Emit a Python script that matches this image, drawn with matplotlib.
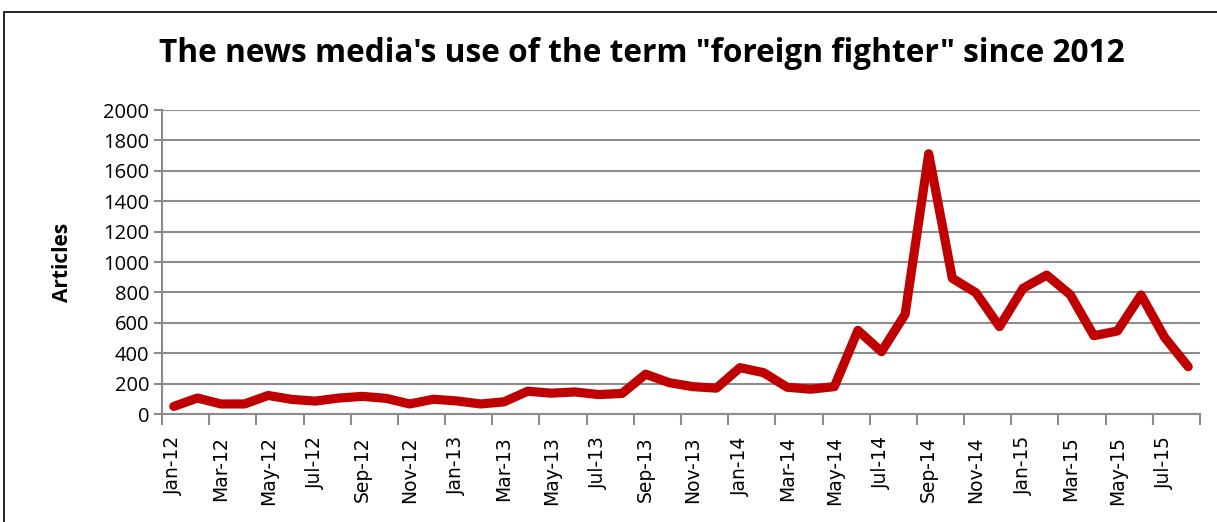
# "foreign fighter" 一词在新闻媒体中的使用次数（2012 年起，按月）
import matplotlib.pyplot as plt
from matplotlib.patches import Rectangle

# 月份标签（2012 年 1 月到 2015 年 8 月）
months = ['Jan-12', 'Feb-12', 'Mar-12', 'Apr-12', 'May-12', 'Jun-12',
          'Jul-12', 'Aug-12', 'Sep-12', 'Oct-12', 'Nov-12', 'Dec-12',
          'Jan-13', 'Feb-13', 'Mar-13', 'Apr-13', 'May-13', 'Jun-13',
          'Jul-13', 'Aug-13', 'Sep-13', 'Oct-13', 'Nov-13', 'Dec-13',
          'Jan-14', 'Feb-14', 'Mar-14', 'Apr-14', 'May-14', 'Jun-14',
          'Jul-14', 'Aug-14', 'Sep-14', 'Oct-14', 'Nov-14', 'Dec-14',
          'Jan-15', 'Feb-15', 'Mar-15', 'Apr-15', 'May-15', 'Jun-15',
          'Jul-15', 'Aug-15']

# 每月文章数量
articles = [50, 105, 66, 66, 122, 96,
            85, 105, 116, 103, 66, 97,
            86, 66, 80, 150, 137, 145,
            128, 135, 262, 206, 180, 170,
            305, 272, 176, 163, 180, 550,
            410, 656, 1712, 893, 798, 575,
            827, 914, 785, 515, 546, 783,
            504, 311]

y_ticks = [0, 200, 400, 600, 800, 1000, 1200, 1400, 1600, 1800, 2000]

grey = '#8c8c8c'

fig = plt.figure(figsize=(12.17, 5.22), dpi=100)
ax = fig.add_axes([162 / 1217, 108 / 522, 1038 / 1217, 304 / 522])

x = list(range(len(months)))
ax.plot(x, articles, color='#C00000', linewidth=6.6,
        solid_capstyle='round', solid_joinstyle='round', zorder=3)

# 纵轴
ax.set_ylim(0, 2000)
ax.set_yticks(y_ticks)
ax.set_yticklabels([str(v) for v in y_ticks], fontsize=14.5,
                   fontfamily='Open Sans')
ax.yaxis.grid(True, color=grey, linewidth=1.5)
ax.set_axisbelow(True)
ax.set_ylabel('Articles', fontsize=15, fontweight='bold',
              fontfamily='Open Sans', labelpad=22)

# 横轴：刻度线在类别边界，标签每两个月一个
ax.set_xlim(-0.5, len(months) - 0.5)
ax.set_xticks([i - 0.5 for i in range(0, len(months) + 1, 2)])
ax.set_xticklabels([])
ax.set_xticks(x[::2], minor=True)
ax.set_xticklabels(months[::2], minor=True, rotation=90, fontsize=13.5,
                   fontfamily='DejaVu Sans')
ax.tick_params(axis='x', which='major', length=8, width=1.5, color=grey)
ax.tick_params(axis='x', which='minor', length=0, pad=16)
ax.tick_params(axis='y', length=6, width=1.5, color=grey, pad=3)

for side in ['top', 'right']:
    ax.spines[side].set_visible(False)
for side in ['left', 'bottom']:
    ax.spines[side].set_color(grey)
    ax.spines[side].set_linewidth(1.5)

fig.text(642 / 1217, 1 - 53 / 522,
         'The news media\'s use of the term "foreign fighter" since 2012',
         ha='center', va='center', fontsize=22.8, fontweight='bold',
         fontfamily='Open Sans')

# 图表外框
fig.patches.append(Rectangle((4 / 1217, -0.05), 1.1, 1 - 12 / 522 + 0.05,
                             transform=fig.transFigure, fill=False,
                             edgecolor='black', linewidth=1.2))

fig.savefig('out.png', dpi=100)
